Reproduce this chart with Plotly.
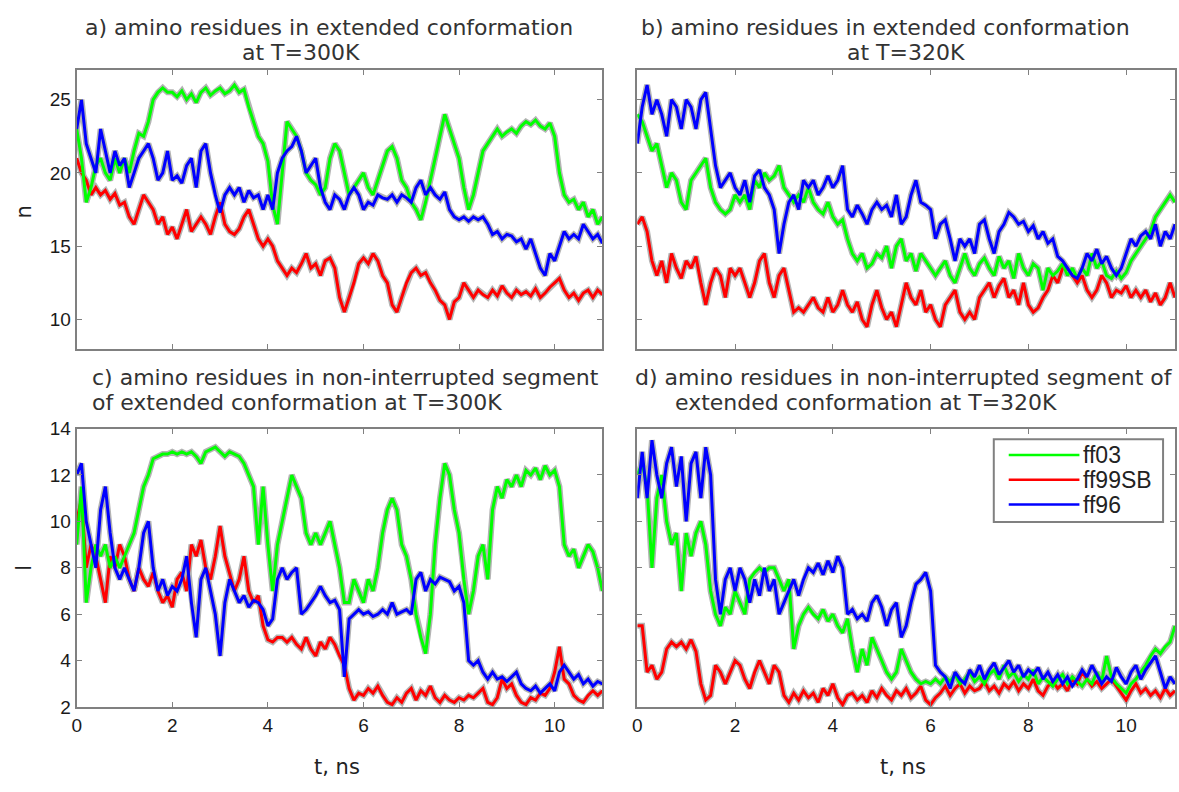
import plotly.graph_objects as go

# ---------------- data ----------------
t = [round(i * 0.1, 1) for i in range(111)]  # time, ns

series_names = ["ff03", "ff99SB", "ff96"]
series_colors = ["#00ff00", "#ff0000", "#0000ff"]

# panel a: residues in extended conformation, T=300K
a_ff03 = [23, 21, 18, 19, 20.5, 21, 20, 19.5, 21, 20,
          21, 20, 21.5, 22.7, 22.5, 23.5, 25, 25.5, 25.8, 25.5,
          25.5, 25.2, 25.6, 25.0, 25.4, 24.8, 25.5, 25.8, 25.3, 25.6,
          25.8, 25.4, 25.6, 26.0, 25.5, 25.7, 24.5, 23.5, 22.5, 22.0,
          20.8, 17.8, 16.5, 20.0, 23.5, 23.0, 22.5, 21.5, 20.0, 19.5,
          19.2, 18.5, 19.0, 21.0, 22.0, 21.5, 20.0, 18.5, 19.0, 19.5,
          20.0, 19.0, 18.5, 19.5, 20.5, 21.5, 21.8, 21.0, 19.5, 19.0,
          18.0, 17.5, 16.8, 18.0, 19.5, 21.0, 22.5, 24.0, 23.0, 22.0,
          21.0, 19.0, 17.5, 18.5, 20.0, 21.5, 22.0, 22.5, 23.0, 22.5,
          22.8, 23.0, 22.7, 23.2, 23.5, 23.3, 23.6, 23.2, 23.0, 23.4,
          22.5, 20.0, 18.5, 18.0, 18.2, 17.5, 18.0, 17.0, 17.5, 16.5,
          17.0]
a_ff99sb = [21, 20, 19.5, 18.5, 19, 18.5, 18.8, 18.2, 18.6, 17.8,
            18, 17, 16.5, 17.5, 18.5, 18, 17.5, 16.5, 17, 15.8,
            16.3, 15.5, 16.5, 17.5, 16, 16.5, 17, 16.5, 15.8, 17,
            18, 16.5, 16, 15.8, 16.2, 17, 17.5, 16.5, 15.5, 15,
            15.5, 15, 14, 13.5, 13, 13.5, 13.2, 13.8, 14.5, 13.5,
            13.8, 13, 14, 14.2, 13.5, 11.5, 10.5, 11.5, 12.5, 13.8,
            14.2, 13.8, 14.5, 14, 13, 12.5, 11, 10.5, 11.5, 12.5,
            13.2, 13.5, 13, 13.2, 12.5, 12, 11.3, 11, 10, 11.2,
            11.5, 12.5, 12, 11.5, 12, 11.7, 11.5, 12, 11.6, 12.3,
            11.8, 11.5, 12, 11.7, 11.9, 11.6, 12.1, 11.5, 11.8, 12.2,
            12.5, 12.8, 12, 11.5, 11.8, 11.3, 11.8, 12, 11.5, 12,
            11.7]
a_ff96 = [23, 25, 22, 21, 20, 23, 21.5, 20, 21.5, 20.5,
          21, 19, 20, 21, 21.5, 22, 21, 19.5, 20, 21.5,
          19.5, 19.8, 19.3, 20.5, 21, 19, 21.5, 22, 20, 18.5,
          17.3, 18.5, 19, 18.5, 19, 18, 18.8, 18.3, 18.5, 17.5,
          18.5, 17.5, 20, 21, 21.5, 21.8, 22.5, 21.5, 20, 20.5,
          21, 19, 18, 17.5, 18.5, 18.2, 17.5, 18.5, 19, 18.5,
          17.5, 18, 17.8, 18.5, 18.3, 18.2, 18.5, 18, 18.5, 18.3,
          18, 19, 19.5, 18.5, 19, 18.5, 18.2, 18.7, 17.5, 17,
          16.8, 17, 16.7, 17, 16.8, 17, 16.5, 15.8, 16, 15.5,
          15.8, 15.7, 15.3, 15.5, 14.8, 15.5, 14.5, 13.5, 13, 14.5,
          14, 15, 16, 15.5, 15.8, 15.5, 16.5, 16, 15.5, 15.8,
          15.2]

# panel b: residues in extended conformation, T=320K
b_ff03 = [24, 23.5, 22.5, 21.5, 22, 20.5, 19, 20, 19.5, 18,
          17.5, 19.5, 20, 20.5, 21, 19, 18, 17.5, 17.2, 17.5,
          18.5, 18, 18.5, 17.5, 19.5, 19, 20, 19.5, 19.8, 20.5,
          19, 18.5, 18, 18.5, 18, 19, 18, 17.5, 17.2, 18,
          17, 16.5, 16.8, 15.5, 14.5, 14, 14.5, 13.5, 13.8, 14.5,
          14.2, 15, 13.5, 15, 15.5, 14, 14.5, 13.3, 14.5, 14,
          13.5, 13, 13.5, 14, 13, 12.5, 13.5, 14.5, 13.5, 13,
          13.8, 14.2, 13.5, 13, 14.3, 13.5, 14, 12.8, 14.5, 13.5,
          13, 13.8, 13.5, 12, 13.5, 13, 13.3, 13.8, 13, 13.5,
          12.8, 13.5, 13, 14.5, 13.5, 14, 13, 12.8, 13.3, 12.8,
          13.2, 14, 14.5, 15, 15.5, 16, 17, 17.5, 18, 18.5,
          18]
b_ff99sb = [16.5, 17, 16, 14, 13, 14, 12.5, 14.5, 13.5, 12.8,
            14, 13.5, 14.3, 12.5, 11, 12.5, 13.5, 13, 11.5, 13.5,
            13, 13.5, 12.5, 11.5, 12.5, 14, 14.5, 12.5, 11.5, 13,
            13.5, 12, 10.5, 10.8, 10.5, 11, 11.5, 10.8, 10.5, 11.5,
            10.5, 11, 12, 11, 10.5, 11.2, 10, 9.5, 11, 12,
            10.8, 10, 10.5, 9.5, 11, 12.5, 11.5, 11, 12, 10.5,
            11, 10, 9.5, 11, 11.5, 12, 10.5, 10, 10.5, 10,
            11.5, 12, 12.5, 11.5, 12.3, 12.8, 11.5, 12, 11, 12.5,
            11, 10.5, 10.8, 11.5, 12, 13, 12.5, 13.5, 13.5, 13,
            12.5, 13, 12, 11.5, 12, 13, 12.5, 11.5, 12, 11.8,
            12.3, 11.5, 12, 11.5, 12, 11.2, 11.8, 11, 11.5, 12.5,
            11.5]
b_ff96 = [22, 24.5, 26, 24, 25, 24, 22.5, 25, 24.5, 23,
          25, 24.5, 23, 25, 25.5, 23, 20.5, 19, 19.5, 20,
          19, 18.5, 19.5, 18, 19.8, 20.2, 19, 18.5, 17.5, 14.5,
          16.5, 18, 18.5, 17.5, 19.5, 19, 19.5, 18.5, 19, 19.8,
          19, 19.5, 20.5, 17.5, 17, 17.8, 17.2, 16.5, 17.5, 18,
          17.5, 17.8, 17, 18.5, 16.5, 17, 18.5, 19.5, 18, 17.8,
          17.5, 15.5, 16.5, 16.8, 15.5, 14, 15.5, 15, 15.5, 14.5,
          16.5, 16.8, 15.5, 14.5, 16, 16.5, 17.3, 17, 16.5, 16.7,
          16, 16.4, 15.5, 16, 15.2, 15.5, 14.3, 14, 13.5, 13,
          12.8, 13.5, 14.5, 14, 14.8, 13.8, 14.3, 13.5, 13, 13.5,
          14.5, 15.5, 15, 15.7, 16, 15.5, 16.5, 15, 16, 15.5,
          16.5]

# panel c: residues in non-interrupted extended segment, T=300K
c_ff03 = [9, 11.5, 6.5, 8, 9, 8.5, 9, 8, 8.5, 8,
          8.5, 9, 9.5, 10.5, 11.5, 12, 12.7, 12.8, 12.9, 12.9,
          13, 12.9, 13, 12.9, 13, 12.8, 12.5, 13, 13.1, 13.2,
          13, 12.8, 13, 12.9, 12.8, 12.5, 12, 11.5, 9, 11.5,
          9, 7, 9, 10, 11, 12, 11.5, 11, 9.5, 9,
          9.5, 9, 9.5, 10, 9, 8, 6.5, 6.5, 7.5, 7,
          6.5, 7.5, 7, 8, 9.5, 10.5, 11, 10.5, 9, 8.5,
          7.5, 6, 5, 4.3, 6, 9, 11, 12.5, 12, 10.5,
          9.5, 7.5, 6, 7, 8.5, 9, 7.5, 10.5, 11.5, 11,
          11.8, 11.5, 12, 11.5, 12.2, 12, 12.3, 11.8, 12.4, 12,
          12.2, 11.5, 9, 8.5, 8.8, 8, 8.5, 9, 8.7, 8,
          7]
c_ff99sb = [10, 11, 8, 9, 8.5, 7.5, 6.5, 8.5, 8, 9,
            8.5, 7.5, 7, 8, 7.5, 7.2, 7.8, 7, 6.5, 6.8,
            6.3, 7.5, 7.8, 7, 9, 8.5, 9.2, 8, 7.5, 8.5,
            9.8, 8.5, 7.8, 7, 7.5, 8.5, 7, 6.5, 6.8, 5.5,
            4.9, 4.8, 5, 5, 4.8, 5, 4.7, 4.5, 5, 4.5,
            4.2, 4.8, 4.5, 5, 4.7, 4.2, 3.8, 2.8, 2.3, 2.6,
            2.5, 2.8, 2.6, 2.9, 2.5, 2.2, 2.1, 2.4, 2.2, 2.6,
            2.8, 2.3, 2.7, 2.5, 2.9, 2.4, 2.2, 2.5, 2.3, 2.2,
            2.4, 2.3, 2.5, 2.4, 2.6, 2.8, 2.2, 2.1, 2.4, 3.2,
            2.8, 3, 2.5, 2.2, 2.1, 2.4, 2.3, 2.6, 2.5, 2.8,
            3.5, 4.6, 3.2, 3, 2.5, 2.3, 2.2, 2.5, 2.7, 2.5,
            2.7]
c_ff96 = [12, 12.5, 10, 9, 8, 10.5, 11.5, 9.5, 8, 7.5,
          8, 7.5, 7, 8, 9.5, 10, 8, 7, 7.5, 6.8,
          7.2, 7, 7.5, 8.5, 6.5, 5, 7.5, 8, 7, 6,
          4.2, 6.5, 7.5, 7, 6.5, 6.8, 6.3, 6.6, 6.5, 6.2,
          5.5, 5.8, 7.5, 8, 7.5, 7.8, 8, 6, 6.2, 6.5,
          6.8, 7.2, 6.8, 6.5, 6.6, 6.2, 3.3, 5.8, 6, 6.2,
          6, 6.1, 5.9, 6, 6.2, 6, 6.5, 6, 6.1, 6.2,
          6, 7.5, 7.8, 7, 7.5, 7.3, 7.6, 7.5, 7.4, 7,
          7.2, 6.5, 4, 3.8, 4, 3.5, 3.2, 3.5, 3.2, 3.3,
          3.1, 3.3, 3.5, 3, 2.8, 2.7, 2.9, 2.6, 2.8, 3,
          2.7, 3.5, 3.8, 3.5, 3.2, 3.4, 3, 3.2, 2.9, 3.1,
          3]

# panel d: residues in non-interrupted extended segment, T=320K
d_ff03 = [12, 12.5, 11.5, 8, 11, 12, 10, 9, 9.5, 7,
          9.5, 8.5, 9.5, 10, 9, 7, 6, 5.5, 6.3, 6,
          7, 6.5, 6, 7.5, 7.8, 8, 7.8, 8, 8, 7.5,
          7, 7.5, 4.5, 5.5, 6, 6.3, 6, 5.8, 6.2, 5.7,
          6, 5.5, 5.2, 5.8, 4.5, 3.5, 4.5, 3.8, 5, 4.5,
          4, 3.5, 3.2, 3.5, 4.5, 4, 3.5, 3.2, 3, 3.1,
          3, 3.2, 3, 3.3, 3.1, 3.4, 3, 3.2, 3.5, 3.1,
          3.3, 3, 3.4, 3.6, 3.2, 3.8, 3.3, 3.5, 3.1, 3.4,
          3.2, 3.6, 3, 3.3, 3.1, 2.9, 3.2, 3.4, 3, 3.3,
          3.1, 2.9, 3.2, 3, 3.5, 3.1, 4.2, 3.3, 3, 2.8,
          2.6, 3, 3.2, 3.5, 3.8, 4.2, 4.5, 4.3, 4.6, 4.8,
          5.5]
d_ff99sb = [5.5, 5.5, 3.5, 3.8, 3.2, 3.5, 4.5, 4.8, 4.6, 4.8,
            4.5, 4.9, 4.4, 3, 2.3, 2.5, 3.8, 3.5, 3, 3.5,
            4, 3.8, 3.2, 2.8, 3.5, 4, 3.5, 3, 3.8, 3.5,
            2.5, 2.2, 2.6, 2.3, 2.7, 2.4, 2.6, 2.2, 2.8, 2.5,
            3, 2.4, 2.1, 2.5, 2.6, 2.3, 2.5, 2.2, 2.7, 2.4,
            2.8, 2.5, 2.3, 2.7, 2.5, 2.8, 2.4, 2.6, 2.9, 2.3,
            2.1, 2.4, 2.6, 2.9, 2.5, 2.8, 3, 2.6, 2.9, 2.7,
            2.8, 3.1, 2.7, 2.9, 2.6, 3, 2.8, 3.1, 2.7, 3,
            2.8, 3.2, 2.7, 2.5, 2.9, 3.1, 2.8, 3, 2.7, 3.2,
            3, 3.5, 3.2, 2.9, 3.1, 2.8, 3, 3.2, 2.9, 2.6,
            2.3, 2.7, 3, 2.6, 2.8, 2.5, 2.7, 2.4, 2.8, 2.5,
            2.7]
d_ff96 = [11, 13, 11, 13.5, 12, 11, 12.5, 13.2, 11.5, 12.8,
          10, 12.5, 13, 11, 13.2, 12, 7.5, 6, 7.5, 8,
          7, 8, 7.5, 6.5, 7.5, 6.8, 8, 7, 7.5, 6,
          6.5, 7, 7.5, 6.8, 7.5, 8, 7.8, 8.2, 7.7, 8.3,
          7.8, 8.5, 8, 6, 6.2, 5.8, 6, 5.7, 6.5, 6.8,
          6.3, 5.5, 6.2, 6.5, 5, 5.5, 6.5, 7.3, 7.5, 7.8,
          7, 3.8, 3.5, 3.3, 2.8, 3.5, 3.2, 3, 3.6, 3.3,
          3.8, 3.2, 3.6, 3.9, 3.4, 3.7, 4, 3.5, 3.8, 3.3,
          3.6, 3.4, 3.7, 3.2, 3.5, 3.1, 3.4, 3, 3.3, 2.9,
          3.2, 3.6, 3.3, 3.8, 3.4, 3, 3.3, 3.1, 3.7, 3.3,
          3, 3.5, 3.8, 3.2, 3.6, 3.9, 4.2, 3.5, 2.8, 3.3,
          3]

panel_titles = [
    ["a) amino residues in extended conformation", "at T=300K"],
    ["b) amino residues in extended conformation", "at T=320K"],
    ["c) amino residues in non-interrupted segment", "of extended conformation at T=300K"],
    ["d) amino residues in non-interrupted segment of", "extended conformation at T=320K"],
]
x_ticks = [0, 2, 4, 6, 8, 10]
y_ticks_top = [10, 15, 20, 25]
y_ticks_bottom = [2, 4, 6, 8, 10, 12, 14]
x_title = "t, ns"
y_title_top = "n"
y_title_bottom = "l"

# ---------------- figure ----------------
W, H = 1179, 792


def PX(px):
    return px / W


def PY(py):
    return 1 - py / H


panels = [
    ("x", "y", a_ff03, a_ff99sb, a_ff96),
    ("x2", "y2", b_ff03, b_ff99sb, b_ff96),
    ("x3", "y3", c_ff03, c_ff99sb, c_ff96),
    ("x4", "y4", d_ff03, d_ff99sb, d_ff96),
]

fig = go.Figure()
for xa, ya, s03, s99, s96 in panels:
    data = {"ff03": s03, "ff99SB": s99, "ff96": s96}
    # grey shadow behind the coloured traces
    for name in ["ff99SB", "ff03", "ff96"]:
        fig.add_trace(go.Scatter(x=t, y=data[name], xaxis=xa, yaxis=ya, mode="lines",
                                 line=dict(color="#b4b4b4", width=6), showlegend=False,
                                 hoverinfo="skip"))
    for name in ["ff99SB", "ff03", "ff96"]:
        col = series_colors[series_names.index(name)]
        fig.add_trace(go.Scatter(x=t, y=data[name], xaxis=xa, yaxis=ya, mode="lines",
                                 line=dict(color=col, width=3), name=name, showlegend=False))

tick_font = dict(family="Liberation Sans, Arial, sans-serif", size=19, color="#1a1a1a")
common_axis = dict(showline=True, linecolor="#808080", linewidth=2, mirror="ticks",
                   ticks="inside", ticklen=5, tickcolor="#808080", tickwidth=1,
                   showgrid=False, zeroline=False, tickfont=tick_font)

xl = [PX(72), PX(600)]
xr = [PX(635), PX(1175)]
yt = [PY(348), PY(62)]
yb = [PY(716), PY(430)]

fig.update_layout(
    width=W, height=H, margin=dict(l=0, r=0, t=0, b=0),
    paper_bgcolor="white", plot_bgcolor="white", showlegend=False,
    xaxis=dict(domain=xl, range=[0, 11], tickvals=x_ticks, showticklabels=False, anchor="y", **common_axis),
    yaxis=dict(domain=yt, range=[8, 27], tickvals=y_ticks_top, anchor="x", **common_axis),
    xaxis2=dict(domain=xr, range=[0, 11], tickvals=x_ticks, showticklabels=False, anchor="y2", **common_axis),
    yaxis2=dict(domain=yt, range=[8, 27], tickvals=y_ticks_top, showticklabels=False, anchor="x2", **common_axis),
    xaxis3=dict(domain=xl, range=[0, 11], tickvals=x_ticks, anchor="y3", **common_axis),
    yaxis3=dict(domain=yb, range=[2, 14], tickvals=y_ticks_bottom, anchor="x3", **common_axis),
    xaxis4=dict(domain=xr, range=[0, 11], tickvals=x_ticks, anchor="y4", **common_axis),
    yaxis4=dict(domain=yb, range=[2, 14], tickvals=y_ticks_bottom, showticklabels=False, anchor="x4", **common_axis),
)

title_font = dict(family="DejaVu Sans, Verdana, sans-serif", size=22, color="#333333")
# (x, y, anchor) in page pixels
title_pos = [
    [(78, 18, "left"), (236, 44, "left")],
    [(637, 18, "left"), (844, 44, "left")],
    [(85, 378, "left"), (85, 403, "left")],
    [(1175, 378, "right"), (671, 403, "left")],
]
annotations = []
for lines, poss in zip(panel_titles, title_pos):
    for text, (px, py, anc) in zip(lines, poss):
        annotations.append(dict(text=text, x=PX(px), y=PY(py), xref="paper", yref="paper",
                                xanchor=anc, yanchor="middle", showarrow=False, font=title_font))

label_font = dict(family="DejaVu Sans, Verdana, sans-serif", size=21, color="#222222")
for cx in [333, 902]:
    annotations.append(dict(text=x_title, x=PX(cx), y=PY(778), xref="paper", yref="paper",
                            xanchor="center", yanchor="middle", showarrow=False, font=label_font))
annotations.append(dict(text=y_title_top, x=PX(19), y=PY(207), xref="paper", yref="paper",
                        textangle=-90, xanchor="center", yanchor="middle", showarrow=False, font=label_font))
annotations.append(dict(text=y_title_bottom, x=PX(19), y=PY(573), xref="paper", yref="paper",
                        textangle=-90, xanchor="center", yanchor="middle", showarrow=False, font=label_font))

# legend box in panel d
shapes = [dict(type="rect", xref="paper", yref="paper", x0=PX(993), x1=PX(1163), y0=PY(526), y1=PY(441),
               line=dict(color="#808080", width=2), fillcolor="white", layer="above")]
leg_font = dict(family="Liberation Sans, Arial, sans-serif", size=23, color="#222222")
for i, (name, col) in enumerate(zip(series_names, series_colors)):
    yy = 457 + i * 25.5
    shapes.append(dict(type="line", xref="paper", yref="paper", x0=PX(1008), x1=PX(1079),
                       y0=PY(yy), y1=PY(yy), line=dict(color=col, width=2.5), layer="above"))
    annotations.append(dict(text=name, x=PX(1081), y=PY(yy), xref="paper", yref="paper",
                            xanchor="left", yanchor="middle", showarrow=False, font=leg_font))

fig.update_layout(annotations=annotations, shapes=shapes)
# remove the default page margin so the figure fills the window exactly
fig.write_html("out.html", config={"displayModeBar": False},
               post_script="document.body.style.margin='0';")
